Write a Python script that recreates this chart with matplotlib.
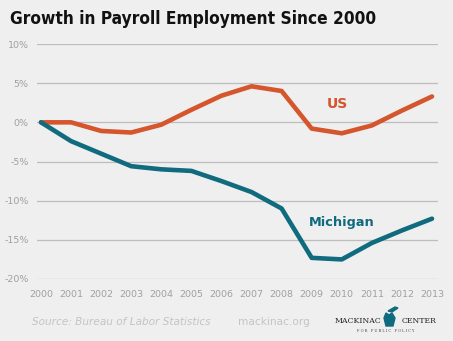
import matplotlib.pyplot as plt
from matplotlib.patches import Polygon

years = list(range(2000, 2014))
us = [0.0, 0.0, -1.1, -1.3, -0.3, 1.6, 3.4, 4.6, 4.0, -0.8, -1.4, -0.4, 1.5, 3.3]
michigan = [0.0, -2.4, -4.0, -5.6, -6.0, -6.2, -7.5, -8.9, -11.0, -17.3, -17.5, -15.4, -13.8, -12.3]
yticks = [10, 5, 0, -5, -10, -15, -20]

bg = '#efefef'
orange = '#d5552d'
teal = '#0f6b7d'

fig = plt.figure(figsize=(4.53, 3.41), dpi=100, facecolor=bg)
W, H = 453.0, 341.0
ax = fig.add_axes([37 / W, 1 - 279 / H, (438 - 37) / W, (279 - 44) / H])
ax.set_facecolor(bg)

ax.plot(years, us, color=orange, lw=3.3, solid_capstyle='round', solid_joinstyle='round', clip_on=False, zorder=3)
ax.plot(years, michigan, color=teal, lw=3.3, solid_capstyle='round', solid_joinstyle='round', clip_on=False, zorder=4)

ax.set_xlim(2000 - 4 / 30.08, 2013 + 6 / 30.08)
ax.set_ylim(-20, 10)
ax.set_yticks(yticks)
ax.set_yticklabels(['%d%%' % v for v in yticks])
ax.set_xticks(years)
ax.set_xticklabels([str(y) for y in years])
ax.grid(axis='y', color='#bdbdbd', lw=0.9)
ax.set_axisbelow(True)
for s in ax.spines.values():
    s.set_visible(False)
ax.tick_params(length=0, labelsize=6.8, colors='#a0a0a0', pad=6)
ax.tick_params(axis='x', pad=8)

ax.text(2009.85, 2.3, 'US', color=orange, fontsize=10, fontweight='bold', va='center', ha='center')
ax.text(2010.0, -12.8, 'Michigan', color=teal, fontsize=9.3, fontweight='bold', va='center', ha='center')

fig.text(10 / W, 1 - 19 / H, 'Growth in Payroll Employment Since 2000',
         family='DejaVu Sans', fontstretch='condensed', fontweight='bold',
         fontsize=12.4, va='center', ha='left', color='#111111')

fig.text(32 / W, 1 - 322 / H, 'Source: Bureau of Labor Statistics', fontsize=7.6,
         style='italic', color='#c4c4c4', va='center', ha='left')
fig.text(238 / W, 1 - 322 / H, 'mackinac.org', fontsize=7.6, color='#c4c4c4',
         va='center', ha='left')

# logo
fig.text(335 / W, 1 - 321 / H, 'MACKINAC', family='DejaVu Serif', fontsize=5.6,
         color='#222222', va='center', ha='left')
fig.text(437 / W, 1 - 321 / H, 'CENTER', family='DejaVu Serif', fontsize=5.6,
         color='#222222', va='center', ha='right')
fig.text(386 / W, 1 - 331 / H, 'F O R   P U B L I C   P O L I C Y', family='DejaVu Serif',
         fontsize=2.6, color='#444444', va='center', ha='center')
mi = [(386, 326), (384, 318), (386, 313), (389, 315), (392, 313), (395, 318), (393, 326)]
fig.patches.append(Polygon([(x / W, 1 - y / H) for x, y in mi], closed=True,
                           transform=fig.transFigure, color=teal))
up = [(388, 311), (395, 307), (398, 308), (392, 312)]
fig.patches.append(Polygon([(x / W, 1 - y / H) for x, y in up], closed=True,
                           transform=fig.transFigure, color=teal))

fig.savefig('out.png', dpi=100, facecolor=bg)
